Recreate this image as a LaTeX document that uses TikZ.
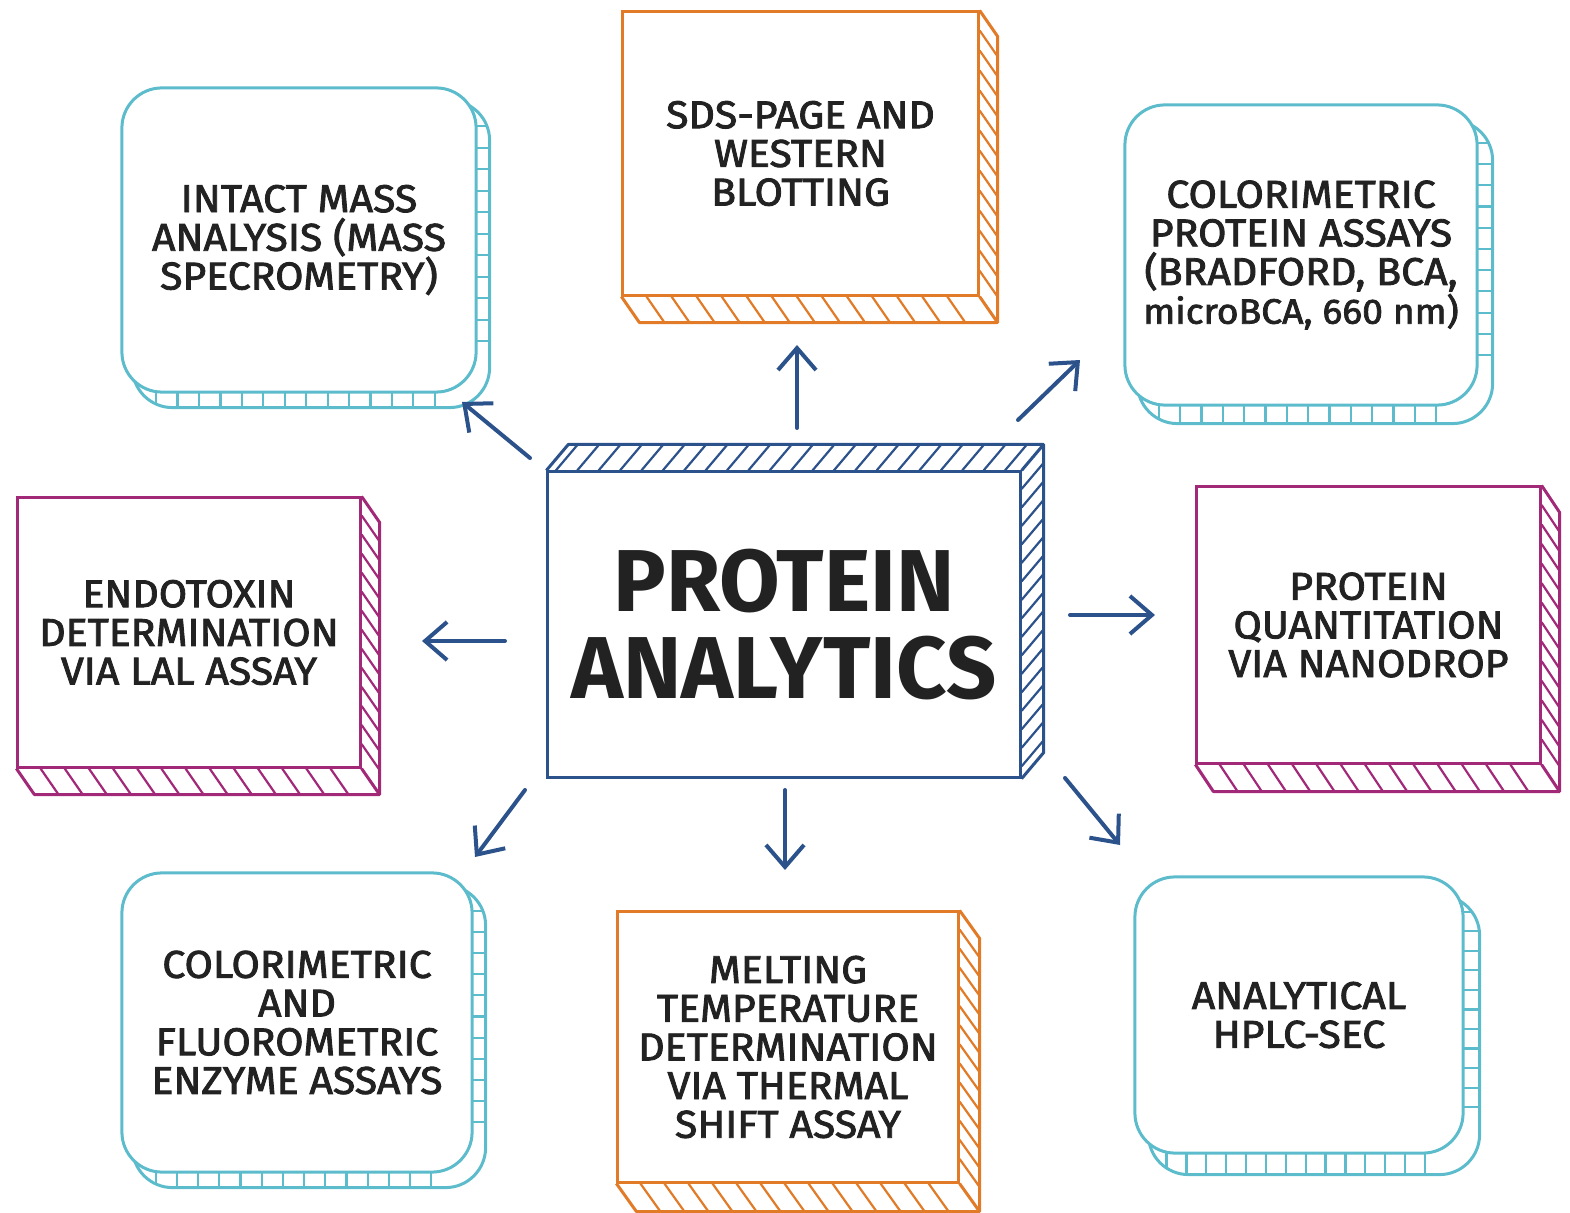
\documentclass[tikz,border=0pt]{standalone}
\usepackage{fontspec}
\setmainfont{Fira Sans}[UprightFeatures={FakeBold=2.2,FakeStretch=1.06}]
\usetikzlibrary{arrows.meta,backgrounds,calc}

\definecolor{sky}{RGB}{92,188,204}
\definecolor{tangerine}{RGB}{225,123,40}
\definecolor{plum}{RGB}{162,40,120}
\definecolor{navy}{RGB}{44,82,140}
\definecolor{ink}{RGB}{34,34,34}

\tikzset{
  panel/.style={draw, fill=white, line width=0.3mm, align=center, text=ink,
    inner sep=0pt, font=\fontsize{11}{11}\selectfont},
  skybox/.style={panel, draw=sky, rounded corners=4mm},
  tangbox/.style={panel, draw=tangerine},
  plumbox/.style={panel, draw=plum},
  hubbox/.style={panel, draw=navy, font=\fontsize{25}{25}\selectfont\bfseries},
  hatch/.style={line width=0.22mm},
  link/.style={navy, line width=0.4mm, ->, line cap=round},
}

\newcommand{\roundback}[3]{%
  \begin{scope}
    \clip[rounded corners=4mm] ($(#1.north west)+(#2,#3)$) rectangle ($(#1.south east)+(#2,#3)$);
    \foreach \t in {0.04,0.10,...,0.92}
      \draw[sky, hatch] ($(#1.south west)!\t!(#1.south east)+(0,-40)$) -- ++(0,100);
    \foreach \t in {0.06,0.13,...,0.90}
      \draw[sky, hatch] ($(#1.north east)!\t!(#1.south east)+(-40,0)$) -- ++(100,0);
  \end{scope}
  \draw[sky, line width=0.3mm, rounded corners=4mm] ($(#1.north west)+(#2,#3)$) rectangle ($(#1.south east)+(#2,#3)$);
}

\newcommand{\prismback}[4]{%
  \draw[#2, line width=0.3mm, line join=round] (#1.north east) -- ++(#3,#4)
    -- ($(#1.south east)+(#3,#4)$) -- ($(#1.south west)+(#3,#4)$) -- (#1.south west);
  \draw[#2, line width=0.3mm] (#1.south east) -- ++(#3,#4);
  \foreach \t in {0.07,0.14,...,0.93} {
    \draw[#2, hatch] ($(#1.north east)!\t!(#1.south east)$) -- ++(#3,#4);
    \draw[#2, hatch] ($(#1.south west)!\t!(#1.south east)$) -- ++(#3,#4);
  }
}

\begin{document}
\begin{tikzpicture}[x=0.01cm, y=-0.01cm, >={Straight Barb[length=2.2mm,width=3.8mm]}]
    \useasboundingbox (0,0) rectangle (1570,1213);

    \node[skybox, minimum width=35.4mm, minimum height=30.4mm] (mass) at (299,240)
        {INTACT MASS\\ANALYSIS (MASS\\SPECROMETRY)};
    \node[tangbox, minimum width=35.5mm, minimum height=28.3mm] (sds) at (800.5,153.5)
        {SDS-PAGE AND\\WESTERN\\BLOTTING};
    \node[skybox, minimum width=35.2mm, minimum height=30mm] (assay) at (1301,255)
        {COLORIMETRIC\\PROTEIN ASSAYS\\(BRADFORD, BCA,\\{\fontsize{10}{11}\selectfont microBCA, 660 nm)}};
    \node[plumbox, minimum width=34.2mm, minimum height=26.9mm] (lal) at (189,632.5)
        {ENDOTOXIN\\DETERMINATION\\VIA LAL ASSAY};
    \node[hubbox, minimum width=47.2mm, minimum height=30.5mm] (hub) at (784,624.5)
        {PROTEIN\\ANALYTICS};
    \node[plumbox, minimum width=34.3mm, minimum height=27.6mm] (drop) at (1368.5,625)
        {PROTEIN\\QUANTITATION\\VIA NANODROP};
    \node[skybox, minimum width=35mm, minimum height=29.9mm] (enzyme) at (297,1022.5)
        {COLORIMETRIC\\AND\\FLUOROMETRIC\\ENZYME ASSAYS};
    \node[tangbox, minimum width=34mm, minimum height=27mm] (melt) at (788,1047)
        {MELTING\\TEMPERATURE\\DETERMINATION\\VIA THERMAL\\SHIFT ASSAY};
    \node[skybox, minimum width=32.8mm, minimum height=27.6mm] (hplc) at (1299,1015)
        {ANALYTICAL\\HPLC-SEC};

    \begin{scope}[on background layer]
        \roundback{mass}{12}{14}
        \roundback{assay}{14}{17}
        \roundback{enzyme}{12}{14}
        \roundback{hplc}{15}{20}
        \prismback{sds}{tangerine}{18}{26}
        \prismback{melt}{tangerine}{20}{28}
        \prismback{lal}{plum}{18}{26}
        \prismback{drop}{plum}{18}{27}
        \draw[navy, line width=0.3mm, line join=round] (hub.south east) -- ++(22,-26)
            -- ($(hub.north east)+(22,-26)$) -- ($(hub.north west)+(22,-26)$) -- (hub.north west);
        \draw[navy, line width=0.3mm] (hub.north east) -- ++(22,-26);
        \foreach \t in {0.02,0.065,...,0.99}
            \draw[navy, hatch] ($(hub.north west)!\t!(hub.north east)$) -- ++(22,-26);
        \foreach \t in {0.06,0.12,...,0.97}
            \draw[navy, hatch] ($(hub.north east)!\t!(hub.south east)$) -- ++(22,-26);
    \end{scope}

    \coordinate (nw0) at (530,458);  \coordinate (nw1) at (462,402);
    \coordinate (n0)  at (797,428);  \coordinate (n1)  at (797,345);
    \coordinate (ne0) at (1018,420); \coordinate (ne1) at (1080,360);
    \coordinate (w0)  at (505,641);  \coordinate (w1)  at (422,641);
    \coordinate (e0)  at (1070,615); \coordinate (e1)  at (1155,615);
    \coordinate (sw0) at (525,790);  \coordinate (sw1) at (475,857);
    \coordinate (s0)  at (785,790);  \coordinate (s1)  at (785,870);
    \coordinate (se0) at (1065,778); \coordinate (se1) at (1120,845);

    \draw[link] (nw0) -- (nw1);
    \draw[link] (n0) -- (n1);
    \draw[link] (ne0) -- (ne1);
    \draw[link] (w0) -- (w1);
    \draw[link] (e0) -- (e1);
    \draw[link] (sw0) -- (sw1);
    \draw[link] (s0) -- (s1);
    \draw[link] (se0) -- (se1);
\end{tikzpicture}
\end{document}
